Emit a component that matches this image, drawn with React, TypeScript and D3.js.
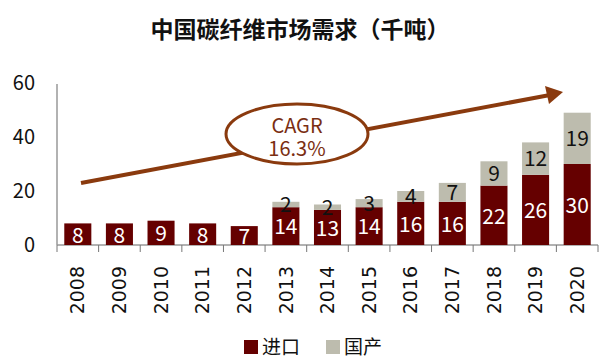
import React from "react";
import * as d3 from "d3";

const years = ["2008", "2009", "2010", "2011", "2012", "2013", "2014", "2015", "2016", "2017", "2018", "2019", "2020"];
const imported = [8, 8, 9, 8, 7, 14, 13, 14, 16, 16, 22, 26, 30];
const domestic = [0, 0, 0, 0, 0, 2, 2, 3, 4, 7, 9, 12, 19];
const yTicks = [0, 20, 40, 60];
const seriesNames = ["进口", "国产"];

const W = 614;
const H = 362;
const RED = "#650000";
const GRAY = "#BDBCAE";
const BROWN = "#8A3A0E";
const CJK = "'Noto Sans CJK SC', 'Noto Sans', sans-serif";

export default function App() {
  const x = d3.scaleBand().domain(years).range([57, 598]).paddingInner(0.35).paddingOuter(0.175);
  const y = d3.scaleLinear().domain([0, 60]).range([245, 83]);
  const step = x.step();

  return (
    <svg width={W} height={H} style={{ position: "absolute", left: 0, top: 0, background: "#fff" }}>
      <text x={300} y={38} textAnchor="middle" fontFamily={CJK} fontSize={23} fontWeight="bold" fill="#111">
        中国碳纤维市场需求（千吨）
      </text>

      {/* y axis */}
      <line x1={57} x2={57} y1={84} y2={245} stroke="#999" strokeWidth={1.5} />
      {yTicks.map((t) => (
        <text key={t} x={35} y={y(t)} dy="0.35em" textAnchor="end" fontFamily={CJK} fontSize={20} fill="#111">
          {t}
        </text>
      ))}

      {/* x axis */}
      <line x1={57} x2={598} y1={245} y2={245} stroke="#999" strokeWidth={1.5} />
      {d3.range(years.length + 1).map((i) => (
        <line key={i} x1={57 + i * step} x2={57 + i * step} y1={245} y2={252} stroke="#777" strokeWidth={1} />
      ))}
      {years.map((yr) => {
        const cx = (x(yr) as number) + x.bandwidth() / 2;
        return (
          <text key={yr} transform={`translate(${cx},266) rotate(-90)`} dy="0.35em" textAnchor="end"
            fontFamily="'DejaVu Sans', sans-serif" fontSize={19} fill="#111">
            {yr}
          </text>
        );
      })}

      {/* bars */}
      {years.map((yr, i) => {
        const bx = x(yr) as number;
        const bw = x.bandwidth();
        const cx = bx + bw / 2;
        const imp = imported[i];
        const dom = domestic[i];
        return (
          <g key={yr}>
            <rect x={bx} y={y(imp)} width={bw} height={y(0) - y(imp)} fill={RED} />
            {dom > 0 && <rect x={bx} y={y(imp + dom)} width={bw} height={y(imp) - y(imp + dom)} fill={GRAY} />}
            <text x={cx} y={(y(0) + y(imp)) / 2 + 1} dy="0.35em" textAnchor="middle" fontFamily={CJK} fontSize={21} fill="#fff">
              {imp}
            </text>
            {dom > 0 && (
              <text x={cx} y={(y(imp) + y(imp + dom)) / 2} dy="0.35em" textAnchor="middle" fontFamily={CJK} fontSize={21} fill="#111">
                {dom}
              </text>
            )}
          </g>
        );
      })}

      {/* trend arrow */}
      <line x1={81} y1={183} x2={550} y2={95} stroke={BROWN} strokeWidth={4} />
      <polygon points="563,92 545,86 549,104" fill={BROWN} />

      {/* CAGR bubble */}
      <ellipse cx={297} cy={134} rx={71} ry={30} fill="#fff" stroke={BROWN} strokeWidth={3} />
      <text x={297} y={126} dy="0.35em" textAnchor="middle" fontFamily={CJK} fontSize={20} fill="#7A2E12">
        CAGR
      </text>
      <text x={297} y={149} dy="0.35em" textAnchor="middle" fontFamily={CJK} fontSize={20} fill="#7A2E12">
        16.3%
      </text>

      {/* legend */}
      {seriesNames.map((n, i) => (
        <g key={n} transform={`translate(${244 + i * 82},347)`}>
          <rect x={0} y={-7} width={14} height={14} fill={i === 0 ? RED : GRAY} />
          <text x={18} y={0} dy="0.35em" fontFamily={CJK} fontSize={19} fill="#111">
            {n}
          </text>
        </g>
      ))}
    </svg>
  );
}
